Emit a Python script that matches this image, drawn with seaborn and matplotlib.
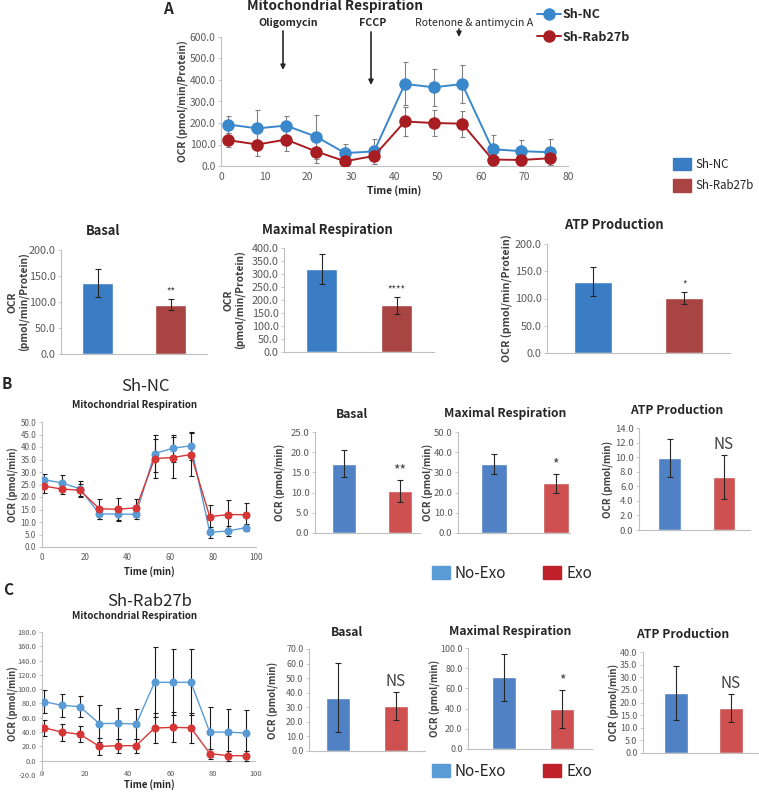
import numpy as np
import pandas as pd
import seaborn as sns
import matplotlib.pyplot as plt
from matplotlib.patches import Patch
from matplotlib.ticker import FormatStrFormatter, MultipleLocator

sns.set_style("white")
plt.rcParams['font.family'] = ['Noto Sans CJK SC', 'DejaVu Sans']

# ---- panel A data (per protein) ----
time_a = [1.7, 8.4, 15.0, 22.0, 28.6, 35.3, 42.4, 49.0, 55.6, 62.6, 69.2, 75.8]
nc_a = [193, 175, 188, 136, 60, 68, 382, 366, 381, 78, 69, 64]
nc_a_err = [40, 87, 45, 103, 43, 57, 100, 85, 88, 66, 52, 60]
rab_a = [120, 100, 123, 67, 22, 47, 207, 200, 197, 30, 28, 36]
rab_a_err = [32, 52, 52, 52, 20, 40, 66, 62, 60, 16, 14, 30]

groups_a = ["Sh-NC", "Sh-Rab27b"]
basal_a, basal_a_err = [137, 95], [27, 11]
maxresp_a, maxresp_a_err = [320, 180], [58, 32]
atp_a, atp_a_err = [131, 101], [27, 11]

# ---- panel B data (Sh-NC cells) ----
time_bc = [1.1, 9.4, 17.7, 26.8, 35.5, 44.0, 52.6, 61.2, 69.6, 78.4, 86.9, 95.5]
noexo_b = [26.9, 25.6, 23.3, 13.3, 13.1, 13.1, 37.4, 39.5, 40.5, 5.9, 6.4, 7.8]
noexo_b_err = [2.5, 3.2, 3.0, 1.9, 2.4, 2.0, 7.4, 5.3, 5.5, 2.3, 2.0, 1.5]
exo_b = [24.3, 23.2, 22.7, 15.3, 15.1, 15.7, 35.4, 35.8, 37.0, 12.1, 13.0, 12.9]
exo_b_err = [2.5, 1.8, 2.6, 4.1, 4.6, 3.5, 7.9, 8.1, 8.6, 4.9, 5.8, 4.7]

groups_bc = ["No-Exo", "Exo"]
basal_b, basal_b_err = [17.2, 10.4], [3.3, 2.8]
maxresp_b, maxresp_b_err = [34.2, 24.7], [4.8, 4.7]
atp_b, atp_b_err = [9.9, 7.3], [2.6, 3.0]

# ---- panel C data (Sh-Rab27b cells) ----
noexo_c = [82.5, 77.4, 75.6, 51.8, 52.2, 51.3, 109.6, 109.6, 109.6, 40.0, 40.0, 38.7]
noexo_c_err = [16, 16, 15, 26, 22, 21, 49, 46, 46, 35, 33, 32]
exo_c = [46, 40, 37, 20, 21, 21, 45.7, 46.6, 46, 10, 7, 7]
exo_c_err = [11, 12, 11, 12, 10, 10, 21, 21, 21, 7, 7, 7]

basal_c, basal_c_err = [36.7, 30.8], [24, 9.5]
maxresp_c, maxresp_c_err = [71, 39.6], [23, 19]
atp_c, atp_c_err = [23.8, 17.8], [10.7, 5.6]

W, H = 759, 799
fig = plt.figure(figsize=(W / 100, H / 100), dpi=100)

GRAY = '#595959'
AXIS = '#BFBFBF'


def add_ax(l, t, r, b):
    return fig.add_axes([l / W, 1 - b / H, (r - l) / W, (b - t) / H])


def ftext(x, y, s, size, weight='normal', **kw):
    fig.text(x / W, 1 - y / H, s, fontsize=size, fontweight=weight,
             ha='center', va='center', color=kw.pop('color', '#262626'), **kw)


def style(ax, box, ylim, ystep, tsize, ylabel, ylab_x, ysize):
    l, t, r, b = box
    sns.despine(ax=ax)
    for s in ['left', 'bottom']:
        ax.spines[s].set_color(AXIS)
        ax.spines[s].set_linewidth(0.8)
    ax.set_ylim(ylim)
    ax.yaxis.set_major_locator(MultipleLocator(ystep))
    ax.yaxis.set_major_formatter(FormatStrFormatter('%.1f'))
    ax.tick_params(labelsize=tsize, labelcolor=GRAY, color=AXIS,
                   length=2.5, width=0.6, pad=1.5)
    ax.tick_params(axis='y', left=True)
    ax.set_ylabel(ylabel, fontsize=ysize, fontweight='bold', color='#404040')
    ax.yaxis.set_label_coords((ylab_x - l) / (r - l), 0.5)
    ax.yaxis.label.set_verticalalignment('center')


def line_chart(box, t, y1, e1, y2, e2, names, colors, ecolor, ms, lw,
               ylim, ystep, xlim, xstep, tsize, ylab, ylab_x, xlab_y, lsize):
    ax = add_ax(*box)
    n = len(t)
    df = pd.DataFrame({'Time': list(t) * 2, 'OCR': list(y1) + list(y2),
                       'Group': [names[0]] * n + [names[1]] * n})
    sns.lineplot(data=df, x='Time', y='OCR', hue='Group',
                 palette=dict(zip(names, colors)), marker='o', markersize=ms,
                 markeredgewidth=0, linewidth=lw, legend=False, ax=ax, zorder=3)
    for yy, ee in [(y1, e1), (y2, e2)]:
        ax.errorbar(t, yy, yerr=ee, fmt='none', ecolor=ecolor, elinewidth=0.8,
                    capsize=1.8, capthick=0.8, zorder=2)
    ax.set_xlim(xlim)
    ax.xaxis.set_major_locator(MultipleLocator(xstep))
    ax.xaxis.set_major_formatter(FormatStrFormatter('%d'))
    style(ax, box, ylim, ystep, tsize, ylab, ylab_x, lsize)
    ax.set_xlabel('Time (min)', fontsize=lsize, fontweight='bold', color='#262626')
    ax.xaxis.set_label_coords(0.5, (box[3] - xlab_y) / (box[3] - box[1]))
    ax.xaxis.label.set_verticalalignment('center')
    return ax


def bar_chart(box, names, vals, errs, colors, ylim, ystep, xlim, tsize,
              ylab, ylab_x, lsize, sig, sig_size, sig_weight='normal'):
    ax = add_ax(*box)
    df = pd.DataFrame({'Group': names, 'OCR': vals})
    sns.barplot(data=df, x='Group', y='OCR', hue='Group',
                palette=dict(zip(names, colors)), width=0.42, saturation=1,
                legend=False, ax=ax)
    ax.errorbar(range(len(names)), vals, yerr=errs, fmt='none', ecolor='#262626',
                elinewidth=0.8, capsize=2, capthick=0.8)
    ax.set_xlim(xlim)
    ax.set_xticks([])
    ax.set_xlabel('')
    style(ax, box, ylim, ystep, tsize, ylab, ylab_x, lsize)
    ax.annotate(sig, (1, vals[1] + errs[1]), xytext=(0, 1.5),
                textcoords='offset points', ha='center', va='bottom',
                fontsize=sig_size, fontweight=sig_weight, color='#404040')
    return ax


# ================= Panel A =================
line_colors_a = ['#3A88CC', '#A81D22']
bar_colors_a = ['#3A7DC4', '#A84442']

ax_a = line_chart((221, 37, 568, 166), time_a, nc_a, nc_a_err, rab_a, rab_a_err,
                  groups_a, line_colors_a, '#808080', 9, 1.4, (0, 600), 100,
                  (0, 80), 10, 7.4, 'OCR (pmol/min/Protein)', 183, 191, 7.3)

ftext(168, 9, 'A', 11, 'bold')
ftext(335, 6, 'Mitochondrial Respiration', 9.8, 'bold')
ftext(288, 23, 'Oligomycin', 7.6, 'bold')
ftext(373, 23, 'FCCP', 7.6, 'bold')
ftext(474, 23, 'Rotenone & antimycin A', 7.6)
for x, y0, y1 in [(283, 31, 70), (371, 32, 85), (459, 29, 37)]:
    ax_a.annotate('', xy=(x, H - y1), xycoords='figure pixels',
                  xytext=(x, H - y0), textcoords='figure pixels',
                  arrowprops=dict(arrowstyle='-|>', color='#262626', lw=1.2,
                                  mutation_scale=7, shrinkA=0, shrinkB=0))

fig.legend(handles=ax_a.lines[:2], labels=groups_a, loc='center left',
           bbox_to_anchor=(537 / W, 1 - 26 / H), frameon=False,
           prop={'weight': 'bold', 'size': 9}, handlelength=1.9,
           handletextpad=0.15, labelspacing=0.75, borderpad=0, borderaxespad=0)

fig.legend(handles=[Patch(color=c) for c in bar_colors_a], labels=groups_a,
           loc='center left', bbox_to_anchor=(673 / W, 1 - 175 / H),
           frameon=False, fontsize=8.3, handlelength=1.55, handleheight=1.3,
           handletextpad=0.4, labelspacing=0.75, borderpad=0, borderaxespad=0)

bar_chart((61, 250, 207, 354), groups_a, basal_a, basal_a_err, bar_colors_a,
          (0, 200), 50, (-0.5, 1.5), 7.8, 'OCR\n(pmol/min/Protein)', 19, 7.4,
          '**', 7)
ftext(103, 231, 'Basal', 9.3, 'bold')
bar_chart((284, 248, 434, 352), groups_a, maxresp_a, maxresp_a_err, bar_colors_a,
          (0, 400), 50, (-0.5, 1.5), 7.8, 'OCR\n(pmol/min/Protein)', 235, 7.4,
          '****', 7)
ftext(327, 230, 'Maximal Respiration', 9.3, 'bold')
bar_chart((547, 244, 730, 353), groups_a, atp_a, atp_a_err, bar_colors_a,
          (0, 200), 50, (-0.5, 1.5), 7.8, 'OCR (pmol/min/Protein)', 507, 7.6,
          '*', 7)
ftext(614, 225, 'ATP Production', 9.3, 'bold')

# ================= Panel B =================
line_colors_bc = ['#5B9BD5', '#D63636']
bar_colors_bc = ['#4F81C4', '#CE5050']
legend_colors_bc = ['#5B9BD5', '#C0202A']

ftext(7, 384, 'B', 11, 'bold')
ftext(145, 387, 'Sh-NC', 12)
ftext(135, 405, 'Mitochondrial Respiration', 7, 'bold')
line_chart((42, 422, 256, 547), time_bc, noexo_b, noexo_b_err, exo_b, exo_b_err,
           groups_bc, line_colors_bc, '#1a1a1a', 5.8, 1.0, (0, 50), 5,
           (0, 100), 20, 5.8, 'OCR (pmol/min)', 13, 572, 6.8)

bar_chart((315, 432, 420, 533), groups_bc, basal_b, basal_b_err, bar_colors_bc,
          (0, 25), 5, (-0.52, 1.36), 6.9, 'OCR (pmol/min)', 280, 7, '**', 10)
ftext(352, 414, 'Basal', 8.7, 'bold')
bar_chart((458, 432, 570, 533), groups_bc, maxresp_b, maxresp_b_err, bar_colors_bc,
          (0, 50), 10, (-0.58, 1.23), 6.9, 'OCR (pmol/min)', 428, 7, '*', 10)
ftext(505, 414, 'Maximal Respiration', 8.7, 'bold')
bar_chart((639, 428, 750, 530), groups_bc, atp_b, atp_b_err, bar_colors_bc,
          (0, 14), 2, (-0.57, 1.48), 6.9, 'OCR (pmol/min)', 608, 7, 'NS', 11)
ftext(677, 411, 'ATP Production', 8.7, 'bold')

for yc in [573, 771]:
    fig.legend(handles=[Patch(color=c) for c in legend_colors_bc], labels=groups_bc,
               loc='center left', bbox_to_anchor=(432 / W, 1 - yc / H), ncol=2,
               frameon=False, fontsize=11, handlelength=1.2, handleheight=0.9,
               handletextpad=0.3, columnspacing=2.4, borderpad=0, borderaxespad=0)

# ================= Panel C =================
ftext(8, 590, 'C', 11, 'bold')
ftext(150, 602, 'Sh-Rab27b', 12)
ftext(135, 616, 'Mitochondrial Respiration', 7, 'bold')
ax_c = line_chart((42, 632, 256, 775), time_bc, noexo_c, noexo_c_err, exo_c, exo_c_err,
                  groups_bc, line_colors_bc, '#1a1a1a', 5.8, 1.0, (-20, 180), 20,
                  (0, 100), 20, 5.4, 'OCR (pmol/min)', 13, 785, 6.8)
ax_c.spines['bottom'].set_visible(False)
ax_c.tick_params(axis='x', length=0, pad=-3.6)
ax_c.axhline(0, color=AXIS, lw=0.8, zorder=1)

bar_chart((309, 649, 425, 751), groups_bc, basal_c, basal_c_err, bar_colors_bc,
          (0, 70), 10, (-0.5, 1.5), 6.4, 'OCR (pmol/min)', 273, 7, 'NS', 11)
ftext(347, 632, 'Basal', 8.7, 'bold')
bar_chart((468, 648, 592, 749), groups_bc, maxresp_c, maxresp_c_err, bar_colors_bc,
          (0, 100), 20, (-0.62, 1.52), 6.4, 'OCR (pmol/min)', 435, 7, '*', 10)
ftext(510, 631, 'Maximal Respiration', 8.7, 'bold')
bar_chart((643, 652, 759, 753), groups_bc, atp_c, atp_c_err, bar_colors_bc,
          (0, 40), 5, (-0.6, 1.51), 6.4, 'OCR (pmol/min)', 614, 7, 'NS', 11)
ftext(683, 634, 'ATP Production', 8.7, 'bold')

fig.savefig('out.png', dpi=100)
